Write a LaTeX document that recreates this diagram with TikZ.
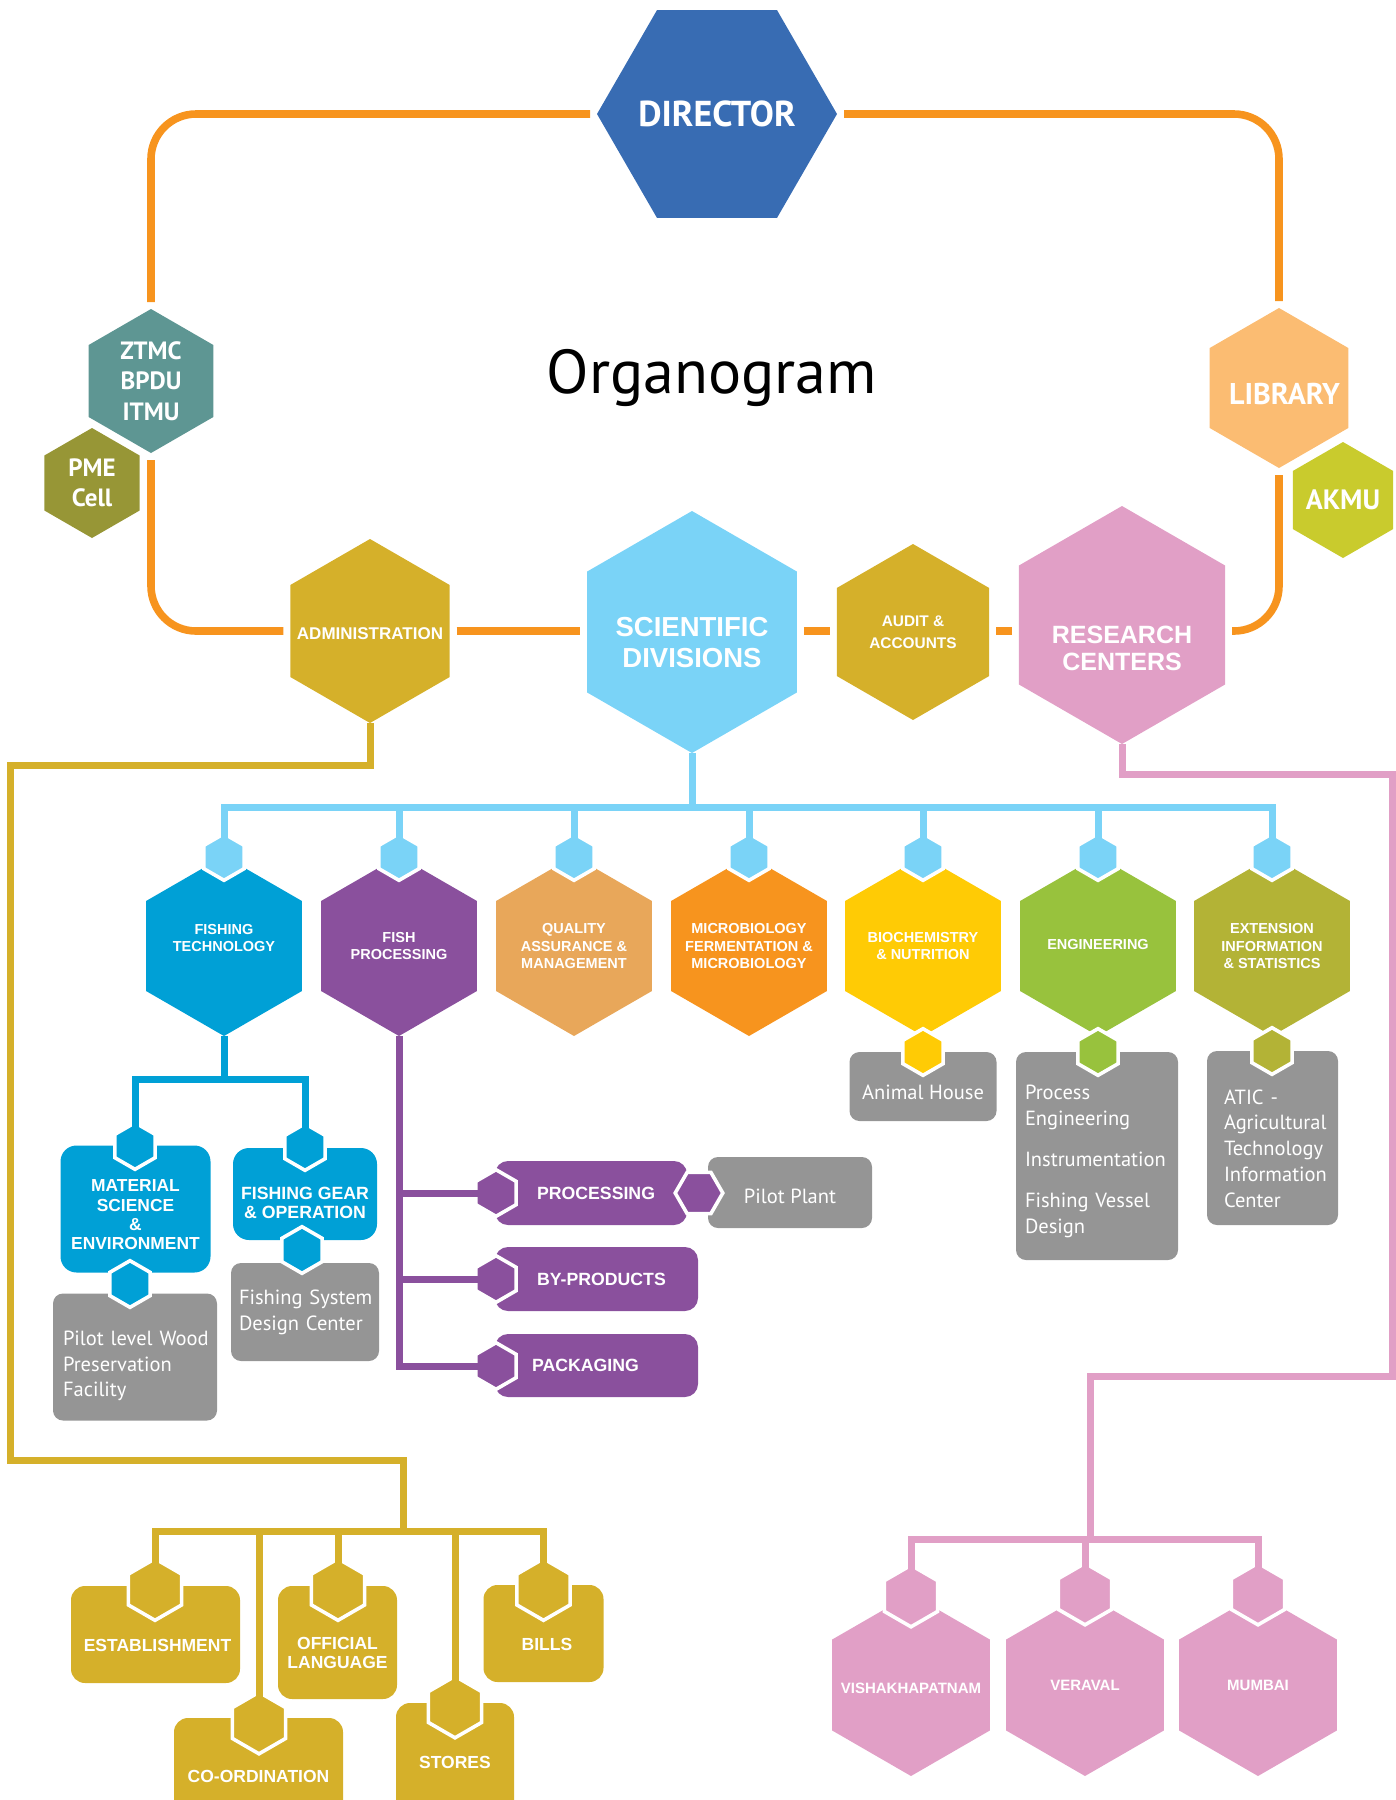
\documentclass[tikz,border=0pt]{standalone}
\usepackage{fontspec}
\setmainfont{Liberation Sans}
\newfontfamily\myriad{PT Sans}
\usetikzlibrary{shapes.geometric,backgrounds}

\definecolor{dirblue}{HTML}{386CB3}
\definecolor{ztmcteal}{HTML}{5E9693}
\definecolor{pmeolive}{HTML}{979636}
\definecolor{libpeach}{HTML}{FBBC72}
\definecolor{akmulime}{HTML}{C9CB2D}
\definecolor{mustard}{HTML}{D5B02A}
\definecolor{sky}{HTML}{7AD3F7}
\definecolor{rcpink}{HTML}{E19FC6}
\definecolor{ftblue}{HTML}{00A0D6}
\definecolor{fppurple}{HTML}{8A509D}
\definecolor{qaorange}{HTML}{E8A75A}
\definecolor{mborange}{HTML}{F7941E}
\definecolor{bnyellow}{HTML}{FFCB05}
\definecolor{enggreen}{HTML}{98C23D}
\definecolor{extolive}{HTML}{B3B336}
\definecolor{boxgrey}{HTML}{959595}
\definecolor{ringorange}{HTML}{F7941E}

\tikzset{
  hexv/.style={regular polygon, regular polygon sides=6, shape border rotate=30,
    fill=#1, draw=none, inner sep=0pt, outer sep=0pt},
  hexh/.style={regular polygon, regular polygon sides=6,
    fill=#1, draw=none, inner sep=0pt, outer sep=0pt},
  knob/.style={hexv=#1, draw=white, line width=1.8pt, minimum size=23.3pt},
  knobh/.style={hexh=#1, draw=white, line width=1.8pt, minimum size=23.8pt},
  bigknob/.style={knob=#1, minimum size=30.8pt},
  box/.style={rectangle, fill=#1, inner sep=0pt, outer sep=0pt},
  greybox/.style={box=boxgrey, rounded corners=5pt},
  lbl/.style={text=white, align=center, inner sep=0pt},
  sz/.style 2 args={font=\bfseries\fontsize{#1}{#2}\selectfont},
  msz/.style 2 args={font=\myriad\bfseries\fontsize{#1}{#2}\selectfont},
  glbl/.style={text=white, align=left, inner sep=0pt,
    font=\myriad\fontsize{10.25pt}{12.9pt}\selectfont},
  wire/.style={draw=#1, line width=3.5pt},
  ringline/.style={wire=ringorange, line width=3.8pt, rounded corners=22.5pt,
    shorten <=3.5pt, shorten >=3.5pt},
}

\begin{document}
\begin{tikzpicture}[x=0.5pt,y=-0.5pt]
\useasboundingbox (0,0) rectangle (1396,1800);
\clip (0,0) rectangle (1396,1800);

% top ring
\node[hexh=dirblue, minimum size=120pt, label={[lbl, msz={18pt}{20pt}]center:DIRECTOR}] (dir) at (717,114) {};
\node[hexv=ztmcteal, minimum size=72pt, label={[lbl, msz={12.5pt}{15.3pt}]center:{ZTMC\\BPDU\\ITMU}}] (ztmc) at (151,381) {};
\node[hexv=pmeolive, minimum size=55pt, label={[lbl, msz={12.5pt}{15pt}]center:{PME\\Cell}}] (pme) at (92,483) {};
\node[hexv=libpeach, minimum size=80pt, label={[lbl, msz={15pt}{16pt}, xshift=2.75pt, yshift=-3pt]center:LIBRARY}] (lib) at (1279,388) {};
\node[hexv=akmulime, minimum size=58pt, label={[lbl, msz={14pt}{15pt}]center:AKMU}] (akmu) at (1343,500) {};
\node[font=\myriad\fontsize{31pt}{36pt}\selectfont] (org) at (712,378) {Organogram};

\node[hexv=mustard, minimum size=92pt, label={[lbl, sz={8.5pt}{10pt}, yshift=-1.5pt]center:ADMINISTRATION}] (adm) at (370,631) {};
\node[hexv=sky, minimum size=121pt, label={[lbl, sz={13.75pt}{15.5pt}, yshift=-5.5pt]center:{SCIENTIFIC\\DIVISIONS}}] (sd) at (692,632) {};
\node[hexv=mustard, minimum size=88pt, label={[lbl, sz={7.7pt}{11pt}]center:{AUDIT \&\\ACCOUNTS}}] (aud) at (913,632) {};
\node[hexv=rcpink, minimum size=119pt, label={[lbl, sz={12.5pt}{13.5pt}, yshift=-11.5pt]center:{RESEARCH\\CENTERS}}] (rc) at (1122,625) {};

% divisions
\node[hexv=ftblue, minimum size=90pt, label={[lbl, sz={7.25pt}{8.65pt}, yshift=4pt]center:{FISHING\\TECHNOLOGY}}] (ft) at (224,946) {};
\node[hexv=fppurple, minimum size=90pt, label={[lbl, sz={7.25pt}{8.65pt}]center:{FISH\\PROCESSING}}] (fp) at (399,946) {};
\node[hexv=qaorange, minimum size=90pt, label={[lbl, sz={7.25pt}{8.65pt}]center:{QUALITY\\ASSURANCE \&\\MANAGEMENT}}] (qa) at (574,946) {};
\node[hexv=mborange, minimum size=90pt, label={[lbl, sz={7.25pt}{8.65pt}]center:{MICROBIOLOGY\\FERMENTATION \&\\MICROBIOLOGY}}] (mb) at (749,946) {};
\node[hexv=bnyellow, minimum size=90pt, label={[lbl, sz={7.25pt}{8.65pt}]center:{BIOCHEMISTRY\\\& NUTRITION}}] (bn) at (923,946) {};
\node[hexv=enggreen, minimum size=90pt, label={[lbl, sz={7.25pt}{8.65pt}, yshift=1pt]center:ENGINEERING}] (eng) at (1098,946) {};
\node[hexv=extolive, minimum size=90pt, label={[lbl, sz={7.25pt}{8.65pt}]center:{EXTENSION\\INFORMATION\\\& STATISTICS}}] (ext) at (1272,946) {};

% grey units under the divisions
\node[greybox, minimum width=73.5pt, minimum height=34.5pt, label={[glbl, yshift=-3pt]center:Animal House}] (ah) at (923,1086.5) {};
\node[greybox, minimum width=81pt, minimum height=104pt, label={[glbl, text width=74pt, xshift=1pt, yshift=-2.75pt]center:{Process\\Engineering\\[7.5pt]Instrumentation\\[8pt]Fishing Vessel\\Design}}] (eng-g) at (1097,1156) {};
\node[greybox, minimum width=65.5pt, minimum height=87pt, label={[glbl, text width=55pt, xshift=3.25pt, yshift=-5.25pt]center:{ATIC -\\Agricultural\\Technology\\Information\\Center}}] (ext-g) at (1272.5,1138) {};

% fishing technology
\node[box=ftblue, rounded corners=8pt, minimum width=75pt, minimum height=63.5pt, label={[lbl, sz={8.7pt}{9.65pt}, yshift=-3pt]center:{MATERIAL\\SCIENCE\\\&\\ENVIRONMENT}}] (ms) at (135.5,1209) {};
\node[box=ftblue, rounded corners=8pt, minimum width=72pt, minimum height=46pt, label={[lbl, sz={8.85pt}{9.85pt}, yshift=-4.5pt]center:{FISHING GEAR\\\& OPERATION}}] (fg) at (305,1194) {};
\node[greybox, minimum width=82pt, minimum height=63.5pt, label={[glbl, text width=73pt, xshift=0.5pt, yshift=-4.5pt]center:{Pilot level Wood\\Preservation\\Facility}}] (plw) at (135,1357) {};
\node[greybox, minimum width=74pt, minimum height=49pt, label={[glbl, text width=67pt, xshift=0.5pt]center:{Fishing System\\Design Center}}] (fsd) at (305,1312) {};

% fish processing
\node[box=fppurple, rounded corners=6.5pt, minimum width=96pt, minimum height=32pt, label={[lbl, sz={8.85pt}{10pt}, align=left, text width=70pt, xshift=8pt]center:PROCESSING}] (proc) at (591,1193) {};
\node[box=fppurple, rounded corners=6.5pt, minimum width=101.5pt, minimum height=32pt, label={[lbl, sz={8.85pt}{10pt}, align=left, text width=70pt, xshift=5.25pt]center:BY-PRODUCTS}] (byp) at (596.5,1279) {};
\node[box=fppurple, rounded corners=6.5pt, minimum width=101.5pt, minimum height=31.5pt, label={[lbl, sz={8.85pt}{10pt}, align=left, text width=70pt, xshift=2.75pt]center:PACKAGING}] (pkg) at (596.5,1365.5) {};
\node[greybox, minimum width=82pt, minimum height=35.5pt, label={[glbl, yshift=-1.75pt]center:Pilot Plant}] (pp) at (790,1192.5) {};

% administration
\node[box=mustard, rounded corners=7pt, minimum width=84.5pt, minimum height=48.5pt, label={[lbl, sz={8.75pt}{9.5pt}, xshift=1pt, yshift=-5.25pt]center:ESTABLISHMENT}] (est) at (155.5,1634.5) {};
\node[box=mustard, rounded corners=7pt, minimum width=59.5pt, minimum height=56.5pt, label={[lbl, sz={8.75pt}{9.5pt}, yshift=-5.25pt]center:{OFFICIAL\\LANGUAGE}}] (ol) at (337.5,1642.5) {};
\node[box=mustard, rounded corners=7pt, minimum width=60pt, minimum height=48.5pt, label={[lbl, sz={8.75pt}{9.5pt}, xshift=1.75pt, yshift=-5.25pt]center:BILLS}] (bil) at (543.5,1633.5) {};
\node[box=mustard, rounded corners=7pt, minimum width=84.5pt, minimum height=56pt, label={[lbl, sz={8.75pt}{9.5pt}, yshift=-1pt]center:CO-ORDINATION}] (coo) at (258.5,1774) {};
\node[box=mustard, rounded corners=7pt, minimum width=59pt, minimum height=63.5pt, label={[lbl, sz={8.75pt}{9.5pt}, yshift=2.25pt]center:STORES}] (sto) at (455,1766.5) {};

% research centers
\node[hexv=rcpink, minimum size=91pt, label={[lbl, sz={7.5pt}{9pt}, yshift=-1.5pt]center:VISHAKHAPATNAM}] (vis) at (911,1685) {};
\node[hexv=rcpink, minimum size=91pt, label={[lbl, sz={7.5pt}{9pt}]center:VERAVAL}] (ver) at (1085,1685) {};
\node[hexv=rcpink, minimum size=91pt, label={[lbl, sz={7.5pt}{9pt}]center:MUMBAI}] (mum) at (1258,1685) {};

% knobs
\node[knob=sky] (ft-k) at (224,857) {};
\node[knob=sky] (fp-k) at (399,857) {};
\node[knob=sky] (qa-k) at (574,857) {};
\node[knob=sky] (mb-k) at (749,857) {};
\node[knob=sky] (bn-k) at (923,857) {};
\node[knob=sky] (eng-k) at (1098,857) {};
\node[knob=sky] (ext-k) at (1272,857) {};
\node[knob=bnyellow] (bn-b) at (923,1052) {};
\node[knob=enggreen] (eng-b) at (1098,1052) {};
\node[knob=extolive] (ext-b) at (1272,1051) {};
\node[knob=ftblue] (ms-k) at (135,1146) {};
\node[knob=ftblue] (fg-k) at (305,1147) {};
\node[knob=ftblue] (ms-b) at (130,1284) {};
\node[knob=ftblue] (fg-b) at (302,1250) {};
\node[knob=fppurple] (proc-k) at (496,1193) {};
\node[knob=fppurple] (byp-k) at (496,1279) {};
\node[knob=fppurple] (pkg-k) at (496,1366) {};
\node[knobh=fppurple] (pp-k) at (699,1193) {};
\node[bigknob=mustard] (est-k) at (155,1589.5) {};
\node[bigknob=mustard] (coo-k) at (259,1723) {};
\node[bigknob=mustard] (ol-k) at (338,1589.5) {};
\node[bigknob=mustard] (sto-k) at (455,1707) {};
\node[bigknob=mustard] (bil-k) at (543.5,1589.5) {};
\node[bigknob=rcpink] (vis-k) at (911,1596) {};
\node[bigknob=rcpink] (ver-k) at (1085,1594) {};
\node[bigknob=rcpink] (mum-k) at (1258,1594) {};

\coordinate (sdbar) at (692,807);
\coordinate (ftbar) at (224,1079);
\coordinate (ad1) at (10,765);
\coordinate (ad2) at (403,1460);
\coordinate (adbar) at (403,1531);
\coordinate (pk1) at (1392,774);
\coordinate (pk2) at (1090,1376);
\coordinate (rcbar) at (1090,1539);

\begin{scope}[on background layer]
\draw[ringline] (dir.west) -| (ztmc.north);
\draw[ringline] (ztmc.south) |- (adm.west);
\draw[ringline] (adm.east) -- (adm.east -| sd.west);
\draw[ringline] (sd.east |- adm.east) -- (adm.east -| aud.west);
\draw[ringline] (aud.east |- adm.east) -- (adm.east -| rc.west);
\draw[ringline] (rc.east |- adm.east) -| (lib.south);
\draw[ringline] (lib.north) |- (dir.east);
\end{scope}

\draw[wire=sky] (sd.south) -- (sdbar);
\draw[wire=sky] (ft-k.center) |- (sdbar) -| (ext-k.center);
\foreach \d in {fp,qa,mb,bn,eng}
  \draw[wire=sky] (\d-k.center) -- (\d-k.center |- sdbar);

\draw[wire=ftblue] (ft.south) -- (ftbar);
\draw[wire=ftblue] (ms-k.center) |- (ftbar) -| (fg-k.center);

\draw[wire=fppurple] (fp.south) |- (pkg-k.center);
\draw[wire=fppurple] (proc-k.center) -- (proc-k.center -| fp.south);
\draw[wire=fppurple] (byp-k.center) -- (byp-k.center -| fp.south);

\draw[wire=mustard] (adm.south) |- (ad1) |- (ad2) -- (adbar);
\draw[wire=mustard] (est-k.center) |- (adbar) -| (bil-k.center);
\foreach \k in {coo,ol,sto}
  \draw[wire=mustard] (\k-k.center) -- (\k-k.center |- adbar);

\draw[wire=rcpink] (rc.south) |- (pk1) |- (pk2) -- (rcbar);
\draw[wire=rcpink] (vis-k.center) |- (rcbar) -| (mum-k.center);
\draw[wire=rcpink] (ver-k.center) -- (ver-k.center |- rcbar);
\end{tikzpicture}
\end{document}
